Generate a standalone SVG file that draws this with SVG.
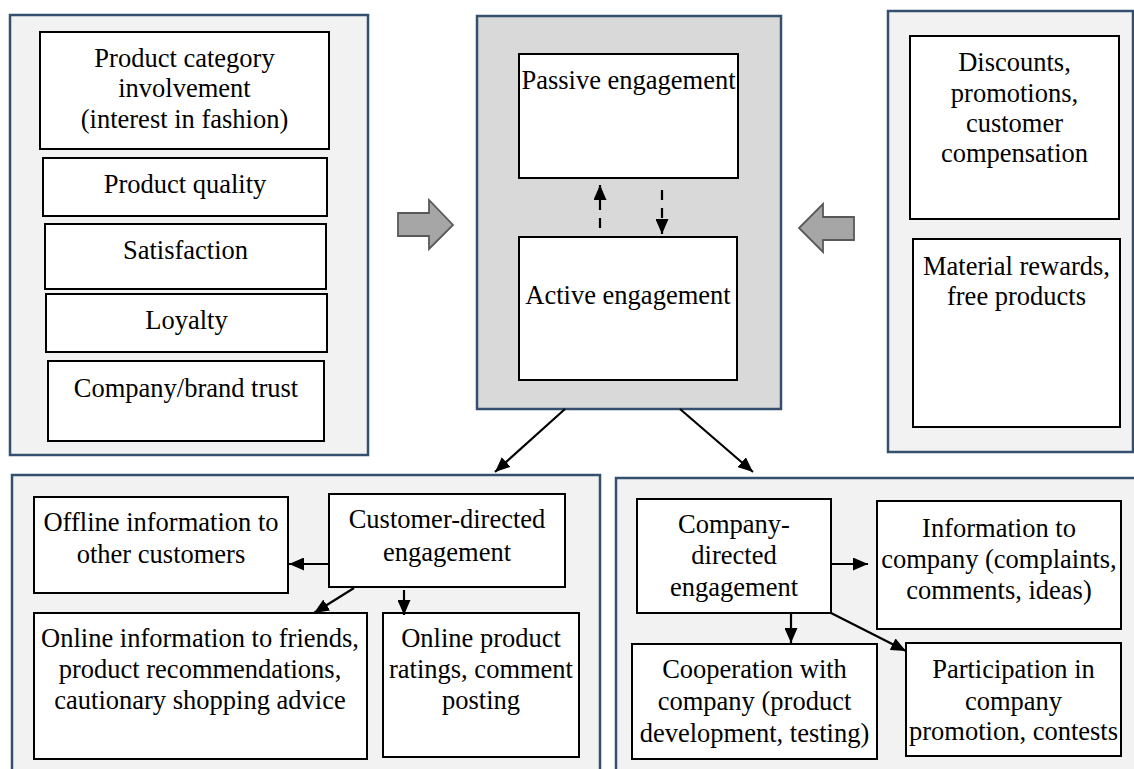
<svg xmlns="http://www.w3.org/2000/svg" width="1134" height="769" viewBox="0 0 1134 769">
<defs>
<style>
.panel{fill:#f2f2f2;stroke:#34506e;stroke-width:2.5}
.core{fill:#d9d9d9;stroke:#34506e;stroke-width:2.5}
.box{fill:#fff;stroke:#000;stroke-width:2}
.con{stroke:#000;stroke-width:2.2;fill:none;marker-end:url(#ah)}
.dash{stroke-dasharray:10 8}
.block{fill:#a6a6a6;stroke:#595959;stroke-width:1.8}
</style>
<marker id="ah" markerUnits="userSpaceOnUse" markerWidth="15" markerHeight="13" refX="15" refY="6.5" orient="auto">
<path d="M0,0 L15,6.5 L0,13 z" fill="#000"/>
</marker>
</defs>
<rect width="1134" height="769" fill="#fff"/>

<g id="panel-antecedents">
<rect class="panel" x="10" y="15" width="358" height="440"/>
<g id="n-category"><rect class="box" x="40" y="32" width="289" height="117"/>
<text font-family="Liberation Serif" font-size="26.5" text-anchor="middle" x="184.5" y="67">Product category</text><text font-family="Liberation Serif" font-size="26.5" text-anchor="middle" x="184.5" y="97">involvement</text><text font-family="Liberation Serif" font-size="26.5" text-anchor="middle" x="184.5" y="128">(interest in fashion)</text></g>
<g id="n-quality"><rect class="box" x="43" y="158" width="284" height="58"/><text font-family="Liberation Serif" font-size="26.5" text-anchor="middle" x="185" y="193">Product quality</text></g>
<g id="n-satisfaction"><rect class="box" x="45" y="224" width="281" height="65"/><text font-family="Liberation Serif" font-size="26.5" text-anchor="middle" x="185.5" y="259">Satisfaction</text></g>
<g id="n-loyalty"><rect class="box" x="46" y="294" width="281" height="58"/><text font-family="Liberation Serif" font-size="26.5" text-anchor="middle" x="186.5" y="329">Loyalty</text></g>
<g id="n-trust"><rect class="box" x="48" y="361" width="276" height="80"/><text font-family="Liberation Serif" font-size="26.5" text-anchor="middle" x="186" y="397">Company/brand trust</text></g>
</g>

<g id="panel-engagement">
<rect class="core" x="477" y="16" width="304" height="393"/>
<g id="n-passive"><rect class="box" x="519" y="54" width="219" height="124"/><text font-family="Liberation Serif" font-size="26.5" text-anchor="middle" x="628.5" y="89">Passive engagement</text></g>
<g id="n-active"><rect class="box" x="519" y="237" width="218" height="143"/><text font-family="Liberation Serif" font-size="26.5" text-anchor="middle" x="628" y="304">Active engagement</text></g>
</g>

<g id="panel-incentives">
<rect class="panel" x="888" y="11" width="245" height="441"/>
<g id="n-discounts"><rect class="box" x="910" y="36" width="209" height="183"/>
<text font-family="Liberation Serif" font-size="26.5" text-anchor="middle" x="1014.5" y="71">Discounts,</text><text font-family="Liberation Serif" font-size="26.5" text-anchor="middle" x="1014.5" y="102">promotions,</text><text font-family="Liberation Serif" font-size="26.5" text-anchor="middle" x="1014.5" y="132">customer</text><text font-family="Liberation Serif" font-size="26.5" text-anchor="middle" x="1014.5" y="162">compensation</text></g>
<g id="n-rewards"><rect class="box" x="913" y="239" width="207" height="188"/>
<text font-family="Liberation Serif" font-size="26.5" text-anchor="middle" x="1016.5" y="275">Material rewards,</text><text font-family="Liberation Serif" font-size="26.5" text-anchor="middle" x="1016.5" y="305">free products</text></g>
</g>

<g id="panel-customer">
<rect class="panel" x="12" y="475" width="588" height="310"/>
<g id="n-custdir"><rect class="box" x="329" y="494" width="236" height="93"/>
<text font-family="Liberation Serif" font-size="26.5" text-anchor="middle" x="447" y="528">Customer-directed</text><text font-family="Liberation Serif" font-size="26.5" text-anchor="middle" x="447" y="561">engagement</text></g>
<g id="n-offline"><rect class="box" x="34" y="497" width="254" height="96"/>
<text font-family="Liberation Serif" font-size="26.5" text-anchor="middle" x="161" y="531">Offline information to</text><text font-family="Liberation Serif" font-size="26.5" text-anchor="middle" x="161" y="563">other customers</text></g>
<g id="n-online-info"><rect class="box" x="34" y="613" width="333" height="146"/>
<text font-family="Liberation Serif" font-size="26.5" text-anchor="middle" x="200" y="647">Online information to friends,</text><text font-family="Liberation Serif" font-size="26.5" text-anchor="middle" x="200" y="678">product recommendations,</text><text font-family="Liberation Serif" font-size="26.5" text-anchor="middle" x="200" y="709">cautionary shopping advice</text></g>
<g id="n-ratings"><rect class="box" x="383" y="613" width="196" height="144"/>
<text font-family="Liberation Serif" font-size="26.5" text-anchor="middle" x="481" y="647">Online product</text><text font-family="Liberation Serif" font-size="26.5" text-anchor="middle" x="481" y="678">ratings, comment</text><text font-family="Liberation Serif" font-size="26.5" text-anchor="middle" x="481" y="709">posting</text></g>
</g>

<g id="panel-company">
<rect class="panel" x="616" y="478" width="530" height="310"/>
<g id="n-compdir"><rect class="box" x="637" y="499" width="194" height="114"/>
<text font-family="Liberation Serif" font-size="26.5" text-anchor="middle" x="734" y="533">Company-</text><text font-family="Liberation Serif" font-size="26.5" text-anchor="middle" x="734" y="564">directed</text><text font-family="Liberation Serif" font-size="26.5" text-anchor="middle" x="734" y="596">engagement</text></g>
<g id="n-info-company"><rect class="box" x="877" y="501" width="244" height="128"/>
<text font-family="Liberation Serif" font-size="26.5" text-anchor="middle" x="999" y="537">Information to</text><text font-family="Liberation Serif" font-size="26.5" text-anchor="middle" x="999" y="568">company (complaints,</text><text font-family="Liberation Serif" font-size="26.5" text-anchor="middle" x="999" y="599">comments, ideas)</text></g>
<g id="n-cooperation"><rect class="box" x="632" y="644" width="245" height="115"/>
<text font-family="Liberation Serif" font-size="26.5" text-anchor="middle" x="754.5" y="678">Cooperation with</text><text font-family="Liberation Serif" font-size="26.5" text-anchor="middle" x="754.5" y="710">company (product</text><text font-family="Liberation Serif" font-size="26.5" text-anchor="middle" x="754.5" y="742">development, testing)</text></g>
<g id="n-participation"><rect class="box" x="906" y="643" width="215" height="113"/>
<text font-family="Liberation Serif" font-size="26.5" text-anchor="middle" x="1013.5" y="678">Participation in</text><text font-family="Liberation Serif" font-size="26.5" text-anchor="middle" x="1013.5" y="710">company</text><text font-family="Liberation Serif" font-size="26.5" text-anchor="middle" x="1013.5" y="740">promotion, contests</text></g>
</g>

<g id="connectors">
<polygon class="block" points="398,213 429,213 429,200 453,225 429,249 429,236 398,236"/>
<polygon class="block" points="854,217 823,217 823,204 799,228 823,252 823,240 854,240"/>
<line class="con dash" x1="600" y1="228" x2="600" y2="185"/>
<line class="con dash" x1="662" y1="190" x2="662" y2="234"/>
<line class="con" x1="565" y1="409" x2="495" y2="472"/>
<line class="con" x1="680" y1="409" x2="753" y2="472"/>
<line class="con" x1="329" y1="564" x2="289" y2="564"/>
<line class="con" x1="354" y1="588" x2="314" y2="613"/>
<line class="con" x1="404" y1="590" x2="404" y2="615"/>
<line class="con" x1="831" y1="564" x2="868" y2="564"/>
<line class="con" x1="791" y1="613" x2="791" y2="643"/>
<line class="con" x1="831" y1="613" x2="906" y2="651"/>
</g>
</svg>
